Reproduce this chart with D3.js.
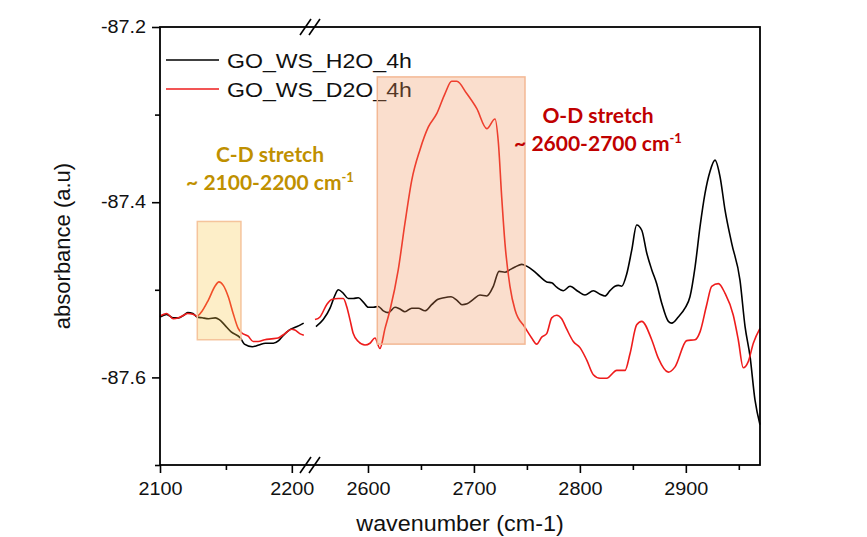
<!DOCTYPE html>
<html>
<head>
<meta charset="utf-8">
<script src="https://cdn.jsdelivr.net/npm/d3@7"></script>
<style>
  body { margin: 0; background: #fff; }
  text { font-family: "Liberation Sans", Arial, sans-serif; }
</style>
</head>
<body>
<svg id="chart" width="867" height="537"></svg>
<script>
// ---- data: [wavenumber (cm-1), absorbance] ----
const seriesNames = ["GO_WS_H2O_4h", "GO_WS_D2O_4h"];

// low-wavenumber segment (2100–2210 cm-1)
const h2oLow = [[2100,-87.531],[2105,-87.528],[2110,-87.532],[2114,-87.532],[2118,-87.529],[2121,-87.526],[2125,-87.527],[2128,-87.531],[2132,-87.532],[2137,-87.533],[2142,-87.532],[2145,-87.534],[2149,-87.540],[2154,-87.548],[2161,-87.555],[2164,-87.562],[2170,-87.565],[2175,-87.563],[2180,-87.561],[2186,-87.561],[2190,-87.558],[2193,-87.553],[2198,-87.546],[2204,-87.542],[2209,-87.538]];
const d2oLow = [[2100,-87.530],[2105,-87.527],[2110,-87.533],[2114,-87.532],[2118,-87.529],[2121,-87.527],[2125,-87.528],[2128,-87.530],[2131.6,-87.525],[2136.6,-87.512],[2141.7,-87.496],[2144.7,-87.491],[2148,-87.495],[2151.8,-87.508],[2155.5,-87.527],[2159.3,-87.544],[2161.9,-87.549],[2166.9,-87.553],[2170.7,-87.559],[2174.5,-87.559],[2179.5,-87.557],[2184.6,-87.556],[2189.6,-87.555],[2194.7,-87.550],[2199.8,-87.545],[2202.3,-87.546],[2206,-87.550],[2209.1,-87.552]];

// high-wavenumber segment (2550–2970 cm-1)
const h2oHigh = [[2550.9,-87.542],[2557.8,-87.534],[2564.2,-87.521],[2568.9,-87.506],[2572.0,-87.500],[2576.7,-87.504],[2581.4,-87.510],[2586.1,-87.510],[2590.9,-87.509],[2595.6,-87.514],[2600.3,-87.520],[2605.0,-87.520],[2609.7,-87.519],[2614.5,-87.524],[2619.2,-87.526],[2625.5,-87.520],[2630.2,-87.522],[2634.9,-87.525],[2641.3,-87.521],[2647.5,-87.521],[2653.8,-87.524],[2660.1,-87.517],[2665.6,-87.511],[2671.8,-87.509],[2678.4,-87.508],[2684.0,-87.512],[2688.7,-87.517],[2693.5,-87.516],[2699.4,-87.511],[2705.7,-87.506],[2712.1,-87.507],[2718.3,-87.496],[2723.7,-87.479],[2729.3,-87.480],[2734.0,-87.477],[2738.8,-87.474],[2745.1,-87.471],[2749.8,-87.473],[2756.0,-87.478],[2762.4,-87.485],[2768.7,-87.491],[2773.4,-87.492],[2778.1,-87.497],[2784.4,-87.501],[2790.7,-87.496],[2798.5,-87.502],[2804.8,-87.506],[2812.7,-87.501],[2819.0,-87.505],[2823.7,-87.507],[2828.4,-87.501],[2833.1,-87.496],[2836.3,-87.495],[2839.5,-87.496],[2844.2,-87.482],[2848.9,-87.455],[2853.6,-87.426],[2858.4,-87.432],[2863.1,-87.458],[2867.8,-87.477],[2872.5,-87.493],[2877.2,-87.515],[2883.5,-87.536],[2886.7,-87.538],[2892.9,-87.531],[2899.2,-87.521],[2903.9,-87.508],[2908.7,-87.474],[2913.4,-87.428],[2918.1,-87.390],[2922.8,-87.365],[2927.5,-87.352],[2932.3,-87.371],[2937.0,-87.409],[2943.3,-87.447],[2951.1,-87.489],[2955.9,-87.542],[2960.6,-87.576],[2965.3,-87.626],[2970,-87.654]];
const d2oHigh = [[2550.0,-87.534],[2554.7,-87.531],[2561.0,-87.517],[2565.8,-87.511],[2572.0,-87.510],[2576.7,-87.510],[2579.9,-87.519],[2583.0,-87.534],[2586.1,-87.550],[2590.9,-87.559],[2597.2,-87.563],[2601.9,-87.561],[2606.6,-87.555],[2611.3,-87.567],[2616.1,-87.544],[2620.8,-87.523],[2628.6,-87.477],[2634.9,-87.424],[2641.3,-87.375],[2649.1,-87.340],[2657.0,-87.314],[2664.9,-87.299],[2672.7,-87.276],[2679.0,-87.262],[2683.8,-87.262],[2693.2,-87.276],[2702.6,-87.293],[2712.1,-87.316],[2719.9,-87.305],[2723.0,-87.331],[2726.2,-87.394],[2729.3,-87.447],[2734.0,-87.496],[2738.8,-87.523],[2748.2,-87.543],[2754.5,-87.555],[2759.2,-87.562],[2764.0,-87.554],[2768.7,-87.550],[2773.4,-87.532],[2778.1,-87.529],[2782.8,-87.533],[2787.6,-87.545],[2793.8,-87.559],[2800.1,-87.566],[2806.4,-87.580],[2812.7,-87.597],[2819.0,-87.601],[2825.3,-87.601],[2834.8,-87.592],[2842.6,-87.592],[2847.3,-87.573],[2853.6,-87.540],[2858.4,-87.536],[2867.8,-87.557],[2874.0,-87.578],[2883.5,-87.594],[2889.8,-87.588],[2900.8,-87.558],[2908.7,-87.557],[2913.4,-87.548],[2919.7,-87.517],[2924.4,-87.496],[2930.7,-87.493],[2937.0,-87.504],[2944.8,-87.529],[2949.5,-87.557],[2954.2,-87.589],[2958.9,-87.582],[2963.7,-87.561],[2970,-87.544]];

// axis ticks
const yMajorTicks = [-87.2, -87.4, -87.6];
const yMinorTicks = [-87.3, -87.5, -87.7];
const xLowMajorTicks = [2100, 2200];
const xLowMinorTicks = [2150];
const xHighMajorTicks = [2600, 2700, 2800, 2900];
const xHighMinorTicks = [2650, 2750, 2850, 2950];

// highlighted absorption bands
const bandNames = ["C-D stretch", "O-D stretch"];
const bandRanges = ["~ 2100-2200 cm", "~ 2600-2700 cm"];
const bandFrom = [2128.3, 2608.8];
const bandTo = [2161.4, 2748.2];
const bandTop = [-87.422, -87.257];
const bandBottom = [-87.557, -87.562];

// ---- layout ----
const svg = d3.select("#chart");
const plotLeft = 160, plotRight = 760, plotTop = 27, plotBottom = 465;
const breakLeft = 305, breakRight = 315;

const y = d3.scaleLinear().domain([-87.7, -87.2]).range([plotBottom, plotTop]);
const xLow = d3.scaleLinear().domain([2100, 2210]).range([plotLeft, breakLeft]);
const xHigh = d3.scaleLinear().domain([2550, 2970]).range([breakRight, plotRight]);

const colors = ["#000000", "#ee1c1c"];

// widen glyphs slightly (the exported figure uses a broad sans face)
function widen(sel, k) {
  sel.each(function () {
    const w = this.getComputedTextLength();
    if (w > 0) {
      d3.select(this).attr("textLength", w * k).attr("lengthAdjust", "spacingAndGlyphs");
    }
  });
}

// ---- curves ----
function drawLine(data, x, color) {
  const line = d3.line().x(d => x(d[0])).y(d => y(d[1])).curve(d3.curveMonotoneX);
  svg.append("path").datum(data)
    .attr("d", line)
    .attr("fill", "none")
    .attr("stroke", color)
    .attr("stroke-width", 1.6)
    .attr("stroke-linejoin", "round");
}
drawLine(h2oLow, xLow, colors[0]);
drawLine(d2oLow, xLow, colors[1]);
drawLine(h2oHigh, xHigh, colors[0]);
drawLine(d2oHigh, xHigh, colors[1]);

// ---- axes ----
function styleAxis(g) {
  g.select(".domain").remove();
  g.selectAll("line").attr("stroke", "#000").attr("stroke-width", 1.6);
  g.selectAll("text").attr("font-size", 18).attr("fill", "#111")
    .style("font-family", "'Liberation Sans', Arial, sans-serif");
  widen(g.selectAll("text"), 1.1);
}

svg.append("g").attr("transform", `translate(0,${plotBottom})`)
  .call(d3.axisBottom(xLow).tickValues(xLowMajorTicks).tickSize(8).tickPadding(9).tickFormat(d => String(d)))
  .call(styleAxis);
svg.append("g").attr("transform", `translate(0,${plotBottom})`)
  .call(d3.axisBottom(xLow).tickValues(xLowMinorTicks).tickSize(5).tickFormat(""))
  .call(styleAxis);
svg.append("g").attr("transform", `translate(0,${plotBottom})`)
  .call(d3.axisBottom(xHigh).tickValues(xHighMajorTicks).tickSize(8).tickPadding(9).tickFormat(d => String(d)))
  .call(styleAxis);
svg.append("g").attr("transform", `translate(0,${plotBottom})`)
  .call(d3.axisBottom(xHigh).tickValues(xHighMinorTicks).tickSize(5).tickFormat(""))
  .call(styleAxis);

svg.append("g").attr("transform", `translate(${plotLeft},0)`)
  .call(d3.axisLeft(y).tickValues(yMajorTicks).tickSize(8).tickPadding(6).tickFormat(d => d.toFixed(1)))
  .call(styleAxis);
svg.append("g").attr("transform", `translate(${plotLeft},0)`)
  .call(d3.axisLeft(y).tickValues(yMinorTicks).tickSize(5).tickFormat(""))
  .call(styleAxis);

// frame
svg.append("rect")
  .attr("x", plotLeft).attr("y", plotTop)
  .attr("width", plotRight - plotLeft).attr("height", plotBottom - plotTop)
  .attr("fill", "none").attr("stroke", "#000").attr("stroke-width", 1.8);

// axis-break marks
[plotTop, plotBottom].forEach(yy => {
  [0, 9].forEach(dx => {
    svg.append("line")
      .attr("x1", 300 + dx).attr("y1", yy + 8)
      .attr("x2", 311 + dx).attr("y2", yy - 8)
      .attr("stroke", "#000").attr("stroke-width", 1.6);
  });
});

// axis titles
svg.append("text")
  .attr("x", 460).attr("y", 531)
  .attr("text-anchor", "middle")
  .attr("font-size", 22).attr("fill", "#111")
  .text("wavenumber (cm-1)")
  .call(widen, 1.06);
svg.append("text")
  .attr("transform", "translate(70,246) rotate(-90)")
  .attr("text-anchor", "middle")
  .attr("font-size", 22).attr("fill", "#111")
  .text("absorbance (a.u)");

// ---- legend ----
seriesNames.forEach((name, i) => {
  const ly = 60 + i * 29;
  svg.append("line")
    .attr("x1", 166).attr("x2", 219).attr("y1", ly).attr("y2", ly)
    .attr("stroke", colors[i]).attr("stroke-width", 1.6);
  svg.append("text")
    .attr("x", 227).attr("y", ly + 7.5)
    .attr("font-size", 21).attr("fill", "#111")
    .text(name)
    .call(widen, 1.1);
});

// ---- band highlights (drawn over the curves, semi-transparent) ----
const bandFill = ["#f8c84a", "#ee9158"];
const bandStroke = ["#f5c49c", "#f3b894"];
const bandScale = [xLow, xHigh];
bandNames.forEach((_, i) => {
  const x = bandScale[i];
  svg.append("rect")
    .attr("x", x(bandFrom[i])).attr("y", y(bandTop[i]))
    .attr("width", x(bandTo[i]) - x(bandFrom[i]))
    .attr("height", y(bandBottom[i]) - y(bandTop[i]))
    .attr("fill", bandFill[i]).attr("fill-opacity", 0.3)
    .attr("stroke", bandStroke[i]).attr("stroke-width", 1.5);
});

// ---- band annotations ----
const noteColor = ["#bf9000", "#c00000"];
const noteX = [270, 598];
const noteY = [162, 123];
bandNames.forEach((name, i) => {
  const g = svg.append("g")
    .attr("fill", noteColor[i])
    .attr("font-weight", "bold");
  g.append("text")
    .attr("x", noteX[i]).attr("y", noteY[i])
    .attr("text-anchor", "middle").attr("font-size", 21)
    .style("font-family", "Lato, 'Open Sans', sans-serif")
    .text(name);
  const t = g.append("text")
    .attr("x", noteX[i]).attr("y", noteY[i] + 28)
    .attr("text-anchor", "middle").attr("font-size", 21)
    .style("font-family", "Lato, 'Open Sans', sans-serif");
  t.append("tspan").text(bandRanges[i]);
  t.append("tspan").attr("font-size", 13).attr("dy", -8).text("-1");
});
</script>
</body>
</html>
